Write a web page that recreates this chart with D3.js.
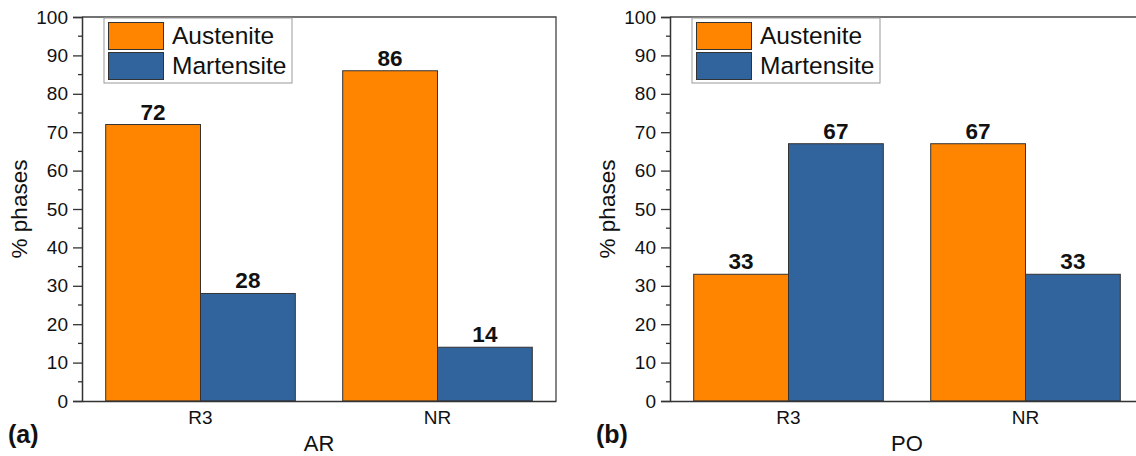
<!DOCTYPE html>
<html>
<head>
<meta charset="utf-8">
<script src="https://cdn.jsdelivr.net/npm/d3@7"></script>
<style>
  html, body { margin: 0; padding: 0; background: #fff; }
  svg { display: block; }
  svg text { font-family: "Liberation Sans", Arial, sans-serif; }
</style>
</head>
<body>
<svg id="chart" width="1136" height="456"></svg>
<script>
// Phase fractions (%) per sample, for the two conditions
const categories = ["R3", "NR"];
const seriesNames = ["Austenite", "Martensite"];
const austeniteAR = [72, 86];
const martensiteAR = [28, 14];
const austenitePO = [33, 67];
const martensitePO = [67, 33];
const yTicks = [0, 10, 20, 30, 40, 50, 60, 70, 80, 90, 100];
const panels = [
  { tag: "(a)", title: "AR", austenite: austeniteAR, martensite: martensiteAR },
  { tag: "(b)", title: "PO", austenite: austenitePO, martensite: martensitePO }
];

const colors = { Austenite: "#FF8500", Martensite: "#31639C" };
const FONT = '"Liberation Sans", Arial, sans-serif';
const svg = d3.select("#chart");

const panelOffset = 588;
const plot = { left: 82, right: 556, top: 17, bottom: 401 };

panels.forEach((p, i) => {
  const dx = i * panelOffset;
  const g = svg.append("g").attr("transform", `translate(${dx},0)`);

  const x = d3.scaleBand().domain(categories)
    .range([plot.left, plot.right]).paddingInner(0.2).paddingOuter(0.1);
  const xs = d3.scaleBand().domain(seriesNames).range([0, x.bandwidth()]);
  const y = d3.scaleLinear().domain([0, 100]).range([plot.bottom, plot.top]);

  // frame (top and right)
  g.append("path")
    .attr("d", `M${plot.left},${plot.top}H${plot.right}V${plot.bottom}`)
    .attr("fill", "none").attr("stroke", "#444").attr("stroke-width", 1.3);

  // bars
  const rows = categories.map((c, k) => ({
    cat: c,
    vals: [
      { s: "Austenite", v: p.austenite[k] },
      { s: "Martensite", v: p.martensite[k] }
    ]
  }));
  const grp = g.selectAll("g.cat").data(rows).join("g")
    .attr("class", "cat")
    .attr("transform", d => `translate(${x(d.cat)},0)`);
  grp.selectAll("rect").data(d => d.vals).join("rect")
    .attr("x", d => xs(d.s))
    .attr("width", xs.bandwidth())
    .attr("y", d => y(d.v))
    .attr("height", d => y(0) - y(d.v))
    .attr("fill", d => colors[d.s])
    .attr("stroke", "#333").attr("stroke-width", 1);
  grp.selectAll("text").data(d => d.vals).join("text")
    .attr("x", d => xs(d.s) + xs.bandwidth() / 2)
    .attr("y", d => y(d.v) - 5)
    .attr("text-anchor", "middle")
    .attr("font-size", 22.5).attr("font-weight", "bold").attr("fill", "#111")
    .text(d => d.v);

  // y axis with minor ticks
  const yAxis = g.append("g").attr("transform", `translate(${plot.left},0)`)
    .call(d3.axisLeft(y).tickValues(yTicks).tickSize(9).tickPadding(5))
    .attr("font-family", FONT);
  yAxis.selectAll(".tick text").attr("font-size", 19).attr("fill", "#111");
  yAxis.selectAll(".tick line").attr("stroke", "#333").attr("stroke-width", 1.3);
  yAxis.select(".domain").attr("stroke", "#333").attr("stroke-width", 1.5);
  yAxis.selectAll(".minor").data(yTicks.slice(0, -1).map(t => t + 5)).join("line")
    .attr("class", "minor")
    .attr("x1", -4).attr("x2", 0)
    .attr("y1", d => y(d)).attr("y2", d => y(d))
    .attr("stroke", "#333").attr("stroke-width", 1.3);

  // x axis
  const xAxis = g.append("g").attr("transform", `translate(0,${plot.bottom})`)
    .call(d3.axisBottom(x).tickSize(0).tickPadding(10))
    .attr("font-family", FONT);
  xAxis.select(".domain").attr("stroke", "#333").attr("stroke-width", 1.5);
  xAxis.selectAll(".tick text").attr("font-size", 19).attr("fill", "#111");

  // axis titles
  g.append("text")
    .attr("x", (plot.left + plot.right) / 2).attr("y", 451)
    .attr("text-anchor", "middle").attr("font-size", 22).attr("fill", "#111")
    .text(p.title);
  g.append("text")
    .attr("transform", `translate(27,${(plot.top + plot.bottom) / 2}) rotate(-90)`)
    .attr("text-anchor", "middle").attr("font-size", 22.5).attr("fill", "#111")
    .text("% phases");
  g.append("text")
    .attr("x", 8).attr("y", 443)
    .attr("font-size", 25).attr("font-weight", "bold").attr("fill", "#111")
    .text(p.tag);

  // legend
  const lg = g.append("g").attr("transform", "translate(104,18)");
  lg.append("rect").attr("width", 188).attr("height", 65)
    .attr("fill", "#fff").attr("stroke", "#999").attr("stroke-width", 1);
  seriesNames.forEach((s, k) => {
    lg.append("rect")
      .attr("x", 4.5).attr("y", 4.5 + k * 30)
      .attr("width", 55).attr("height", 27)
      .attr("fill", colors[s]).attr("stroke", "#333").attr("stroke-width", 1);
    lg.append("text")
      .attr("x", 68).attr("y", 26 + k * 30)
      .attr("font-size", 24.5).attr("fill", "#111")
      .text(s);
  });
});
</script>
</body>
</html>
